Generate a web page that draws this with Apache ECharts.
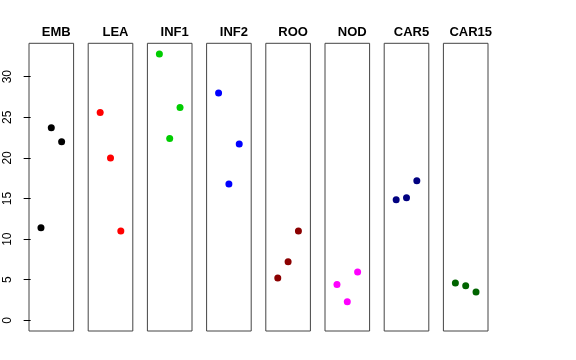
<!DOCTYPE html>
<html><head><meta charset="utf-8">
<script src="https://cdn.jsdelivr.net/npm/echarts@6/dist/echarts.min.js"></script>
<style>html,body{margin:0;padding:0;background:#fff}#c{width:576px;height:360px}</style>
</head><body><div id="c"></div>
<script>
var panels = ['EMB','LEA','INF1','INF2','ROO','NOD','CAR5','CAR15'];
var colors = ['#000000','#FF0000','#00CD00','#0000FF','#8B0000','#FF00FF','#000080','#006400'];
var xPos = [1, 2, 3];
var EMB = [11.4, 23.7, 22.0];
var LEA = [25.6, 20.0, 11.0];
var INF1 = [32.8, 22.4, 26.2];
var INF2 = [28.0, 16.8, 21.7];
var ROO = [5.2, 7.2, 11.0];
var NOD = [4.4, 2.3, 5.95];
var CAR5 = [14.85, 15.1, 17.2];
var CAR15 = [4.6, 4.25, 3.5];
var yTicks = [0, 5, 10, 15, 20, 25, 30];
var values = [EMB, LEA, INF1, INF2, ROO, NOD, CAR5, CAR15];

var yMin = -1.312, yMax = 34.112;
var grids = [], xAxes = [], yAxes = [], series = [], titles = [];
panels.forEach(function(name, i){
  var left = 29 + i * 59.2;
  grids.push({left: left, top: 43.3, width: 44.6, height: 287.7, show: true, borderColor: '#444', borderWidth: 1, backgroundColor: 'transparent'});
  xAxes.push({type: 'value', gridIndex: i, min: -0.16, max: 4.16, show: false});
  yAxes.push({type: 'value', gridIndex: i, min: yMin, max: yMax, show: i === 0,
    splitLine: {show: false},
    axisLine: {show: false},
    axisTick: {show: true, length: 7, lineStyle: {color: '#000'}, customValues: yTicks},
    axisLabel: {show: true, rotate: 90, margin: 15, fontSize: 12, color: '#000', fontFamily: 'Liberation Sans, Arial, sans-serif', customValues: yTicks}
  });
  series.push({type: 'scatter', xAxisIndex: i, yAxisIndex: i, symbol: 'circle', symbolSize: 7,
    itemStyle: {color: colors[i], opacity: 1},
    data: values[i].map(function(v, k){ return [xPos[k], v]; })});
  titles.push({text: name, left: left + 22.3, top: 21, textAlign: 'center',
    textStyle: {fontSize: 13, fontWeight: 'bold', color: '#000', fontFamily: 'Liberation Sans, Arial, sans-serif'}});
});

var chart = echarts.init(document.getElementById('c'), null, {renderer: 'canvas'});
chart.setOption({
  animation: false,
  backgroundColor: '#fff',
  title: titles,
  grid: grids,
  xAxis: xAxes,
  yAxis: yAxes,
  series: series
});
</script></body></html>
